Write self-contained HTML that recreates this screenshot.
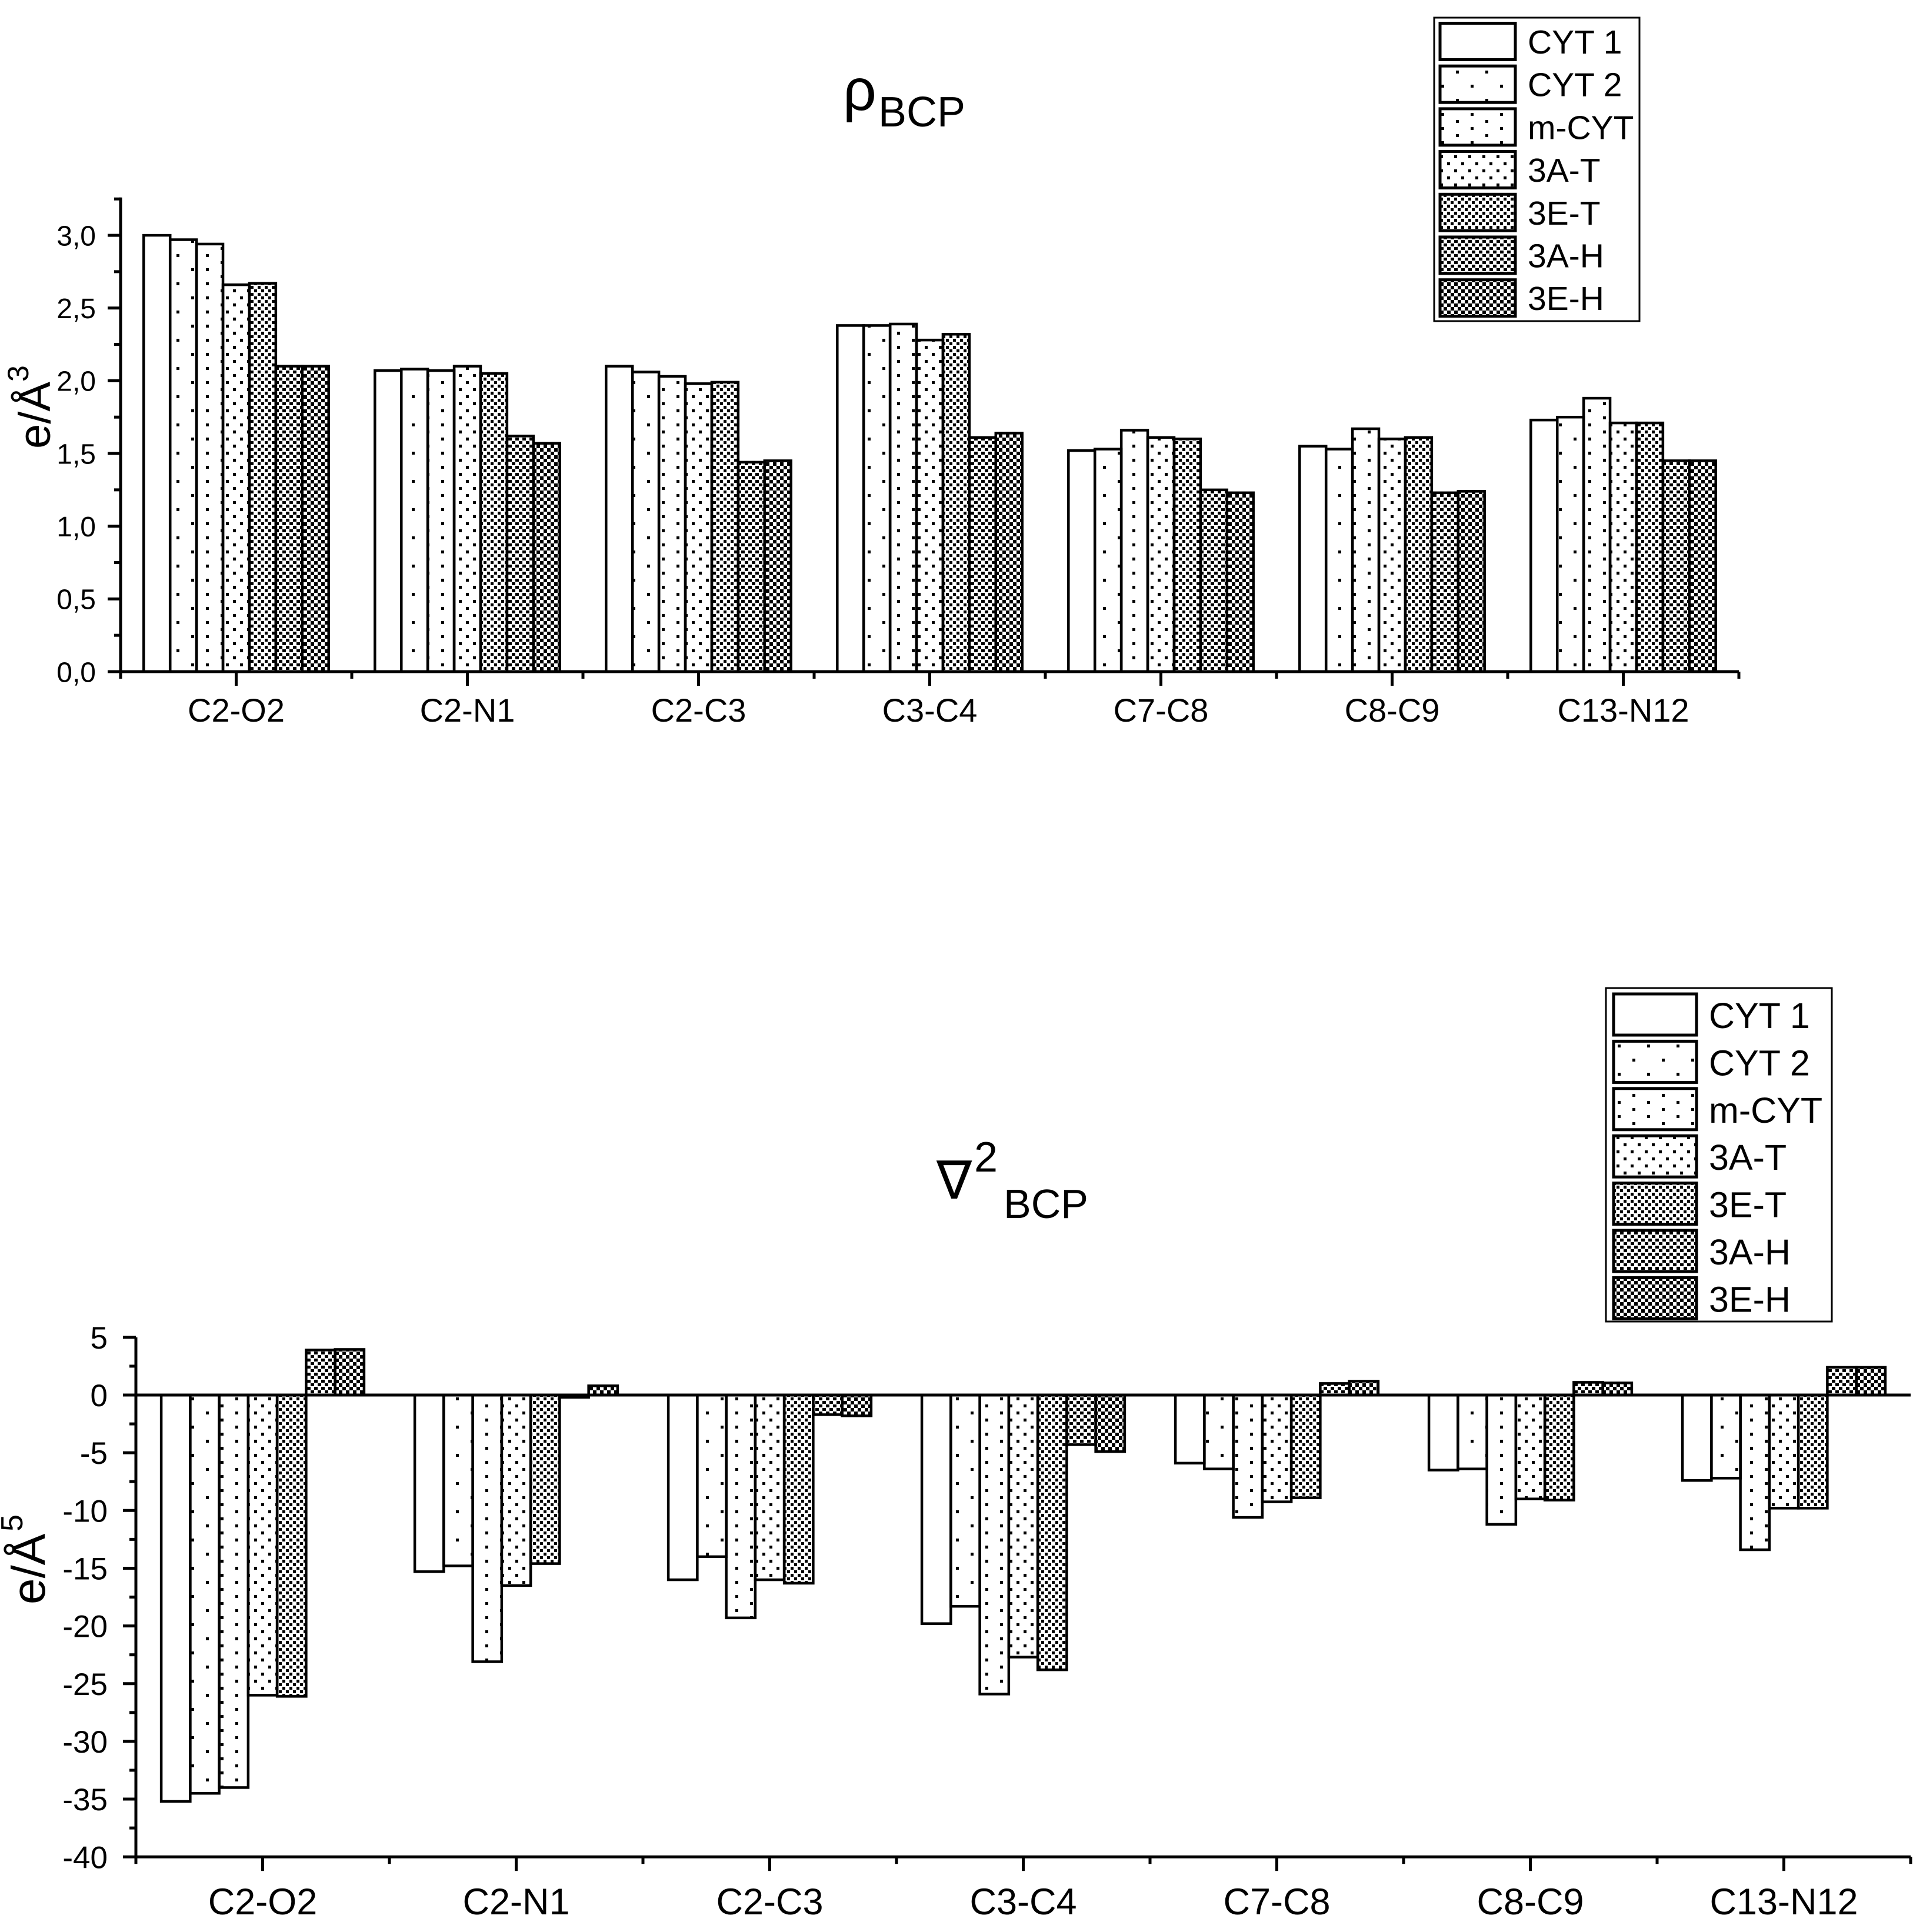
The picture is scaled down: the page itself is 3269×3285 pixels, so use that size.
<!DOCTYPE html>
<html><head><meta charset="utf-8"><style>
html,body{margin:0;padding:0;background:#fff}
svg{display:block}
text{font-family:"Liberation Sans",Arial,sans-serif;fill:#000}
</style></head><body>
<svg id="chart" width="3269" height="3285" viewBox="0 0 3269 3285" xmlns="http://www.w3.org/2000/svg">
<defs>
<pattern id="p1" width="50" height="48" patternUnits="userSpaceOnUse"><rect x="0" y="0" width="5" height="5" fill="#000"/><rect x="25" y="24" width="5" height="5" fill="#000"/></pattern>
<pattern id="p2" width="50" height="24" patternUnits="userSpaceOnUse"><rect x="0" y="0" width="5" height="5" fill="#000"/><rect x="25" y="12" width="5" height="5" fill="#000"/></pattern>
<pattern id="p3" width="24" height="24" patternUnits="userSpaceOnUse"><rect x="0" y="0" width="5" height="5" fill="#000"/><rect x="12" y="12" width="5" height="5" fill="#000"/></pattern>
<pattern id="p4" width="12" height="12" patternUnits="userSpaceOnUse"><rect x="0" y="0" width="5" height="5" fill="#000"/><rect x="6" y="6" width="5" height="5" fill="#000"/></pattern>
<pattern id="p5" width="12" height="12" patternUnits="userSpaceOnUse"><rect x="0" y="0" width="6" height="5" fill="#000"/><rect x="6" y="6" width="6" height="5" fill="#000"/></pattern>
<pattern id="p6" width="12" height="12" patternUnits="userSpaceOnUse"><rect x="0" y="0" width="6" height="6" fill="#000"/><rect x="6" y="6" width="6" height="6" fill="#000"/></pattern>
</defs>
<g id="topChart"></g>
<g id="botChart"></g>
</svg>
<script>
const categories = ["C2-O2","C2-N1","C2-C3","C3-C4","C7-C8","C8-C9","C13-N12"];
const seriesNames = ["CYT 1","CYT 2","m-CYT","3A-T","3E-T","3A-H","3E-H"];
const rhoCYT1 = [3.00,2.07,2.10,2.38,1.52,1.55,1.73];
const rhoCYT2 = [2.97,2.08,2.06,2.38,1.53,1.53,1.75];
const rhoMCYT = [2.94,2.07,2.03,2.39,1.66,1.67,1.88];
const rho3AT = [2.66,2.10,1.98,2.28,1.61,1.60,1.71];
const rho3ET = [2.67,2.05,1.99,2.32,1.60,1.61,1.71];
const rho3AH = [2.10,1.62,1.44,1.61,1.25,1.23,1.45];
const rho3EH = [2.10,1.57,1.45,1.64,1.23,1.24,1.45];
const lapCYT1 = [-35.2,-15.3,-16.0,-19.8,-5.9,-6.5,-7.4];
const lapCYT2 = [-34.5,-14.8,-14.0,-18.3,-6.4,-6.4,-7.2];
const lapMCYT = [-34.0,-23.1,-19.3,-25.9,-10.6,-11.2,-13.4];
const lap3AT = [-26.0,-16.5,-16.0,-22.7,-9.25,-9.0,-9.8];
const lap3ET = [-26.1,-14.6,-16.3,-23.8,-8.9,-9.1,-9.8];
const lap3AH = [3.9,-0.2,-1.7,-4.3,1.0,1.1,2.4];
const lap3EH = [3.95,0.8,-1.8,-4.9,1.2,1.05,2.4];
const rhoTicks = ["0,0","0,5","1,0","1,5","2,0","2,5","3,0"];
const rhoTickValues = [0,0.5,1,1.5,2,2.5,3];
const lapTickValues = [5,0,-5,-10,-15,-20,-25,-30,-35,-40];
const lapTicks = ["5","0","-5","-10","-15","-20","-25","-30","-35","-40"];

const fills = ["#fff","url(#p1)","url(#p2)","url(#p3)","url(#p4)","url(#p5)","url(#p6)"];
const NS = "http://www.w3.org/2000/svg";
function mk(parent, tag, attrs, txt){
  const e = document.createElementNS(NS, tag);
  for (const k in attrs) e.setAttribute(k, attrs[k]);
  if (txt !== undefined) e.textContent = txt;
  parent.appendChild(e);
  return e;
}

function drawChart(g, cfg){
  const yS = v => cfg.y0 - v * cfg.ppu;
  const groupW = cfg.groupW;
  const barW = groupW * 0.8 / 7;
  const xS = (ci, si) => cfg.axisX + ci * groupW + groupW * 0.1 + si * barW;
  cfg.series.forEach((arr, si) => {
    arr.forEach((v, ci) => {
      const x = xS(ci, si);
      const yTop = Math.min(yS(v), yS(0));
      const h = Math.abs(yS(v) - yS(0));
      const r = mk(g, "rect", {x: x, y: yTop, width: barW, height: Math.max(h, 1), fill: fills[si], stroke: "#000", "stroke-width": 4.5});
      
      
    });
  });
  const ya = mk(g, "line", {x1: cfg.axisX, y1: yS(cfg.yMax), x2: cfg.axisX, y2: yS(cfg.yMin) + 3, stroke: "#000", "stroke-width": 5});
  
  
  cfg.tickValues.forEach((v, i) => {
    mk(g, "line", {x1: cfg.axisX - 22, y1: yS(v), x2: cfg.axisX, y2: yS(v), stroke: "#000", "stroke-width": 5});
    const t = mk(g, "text", {x: cfg.labelRight, y: yS(v) + cfg.tickFont * 0.36, "font-size": cfg.tickFont, "text-anchor": "end"}, cfg.tickLabels[i]);
    
    
    const mv = v + cfg.minorStep;
    if (mv <= cfg.yMax + 1e-9) mk(g, "line", {x1: cfg.axisX - 11, y1: yS(mv), x2: cfg.axisX, y2: yS(mv), stroke: "#000", "stroke-width": 5});
  });
  const xEnd = cfg.axisX + groupW * 7;
  const xa = mk(g, "line", {x1: cfg.axisX, y1: yS(0), x2: xEnd, y2: yS(0), stroke: "#000", "stroke-width": 5});
  
  
  const by = yS(cfg.yMin);
  if (cfg.yMin < 0) mk(g, "line", {x1: cfg.axisX, y1: by, x2: xEnd, y2: by, stroke: "#000", "stroke-width": 5});
  categories.forEach((c, ci) => {
    const cx = cfg.axisX + ci * groupW + groupW / 2;
    mk(g, "line", {x1: cx, y1: by, x2: cx, y2: by + 24, stroke: "#000", "stroke-width": 5});
    mk(g, "line", {x1: cfg.axisX + ci * groupW, y1: by, x2: cfg.axisX + ci * groupW, y2: by + 12, stroke: "#000", "stroke-width": 5});
    const t = mk(g, "text", {x: cx, y: cfg.catY, "font-size": cfg.catFont, "text-anchor": "middle"}, c);
    
    
  });
  mk(g, "line", {x1: xEnd, y1: by, x2: xEnd, y2: by + 12, stroke: "#000", "stroke-width": 5});
}

const topG = document.getElementById("topChart");
drawChart(topG, {y0: 1142, ppu: 247.3, axisX: 205, groupW: 393, yMax: 3.26, yMin: 0,
  series: [rhoCYT1, rhoCYT2, rhoMCYT, rho3AT, rho3ET, rho3AH, rho3EH],
  tickValues: rhoTickValues, tickLabels: rhoTicks, minorStep: 0.25, labelRight: 163, tickFont: 48,
  catY: 1227, catFont: 56});
const botG = document.getElementById("botChart");
drawChart(botG, {y0: 2372, ppu: 19.63, axisX: 231, groupW: 431, yMax: 5, yMin: -40,
  series: [lapCYT1, lapCYT2, lapMCYT, lap3AT, lap3ET, lap3AH, lap3EH],
  tickValues: lapTickValues, tickLabels: lapTicks, minorStep: 2.5, labelRight: 183, tickFont: 53,
  catY: 3255, catFont: 63});

let t;
t = mk(topG, "text", {x: 1433, y: 187, "font-size": 100}, "ρ");


mk(topG, "text", {x: 1493, y: 215, "font-size": 72}, "BCP");
t = mk(topG, "text", {transform: "translate(85,763) rotate(-90)", "font-size": 76}, "e/Å");


mk(topG, "text", {transform: "translate(48,649) rotate(-90)", "font-size": 50}, "3");

t = mk(botG, "text", {x: 1592, y: 2038, "font-size": 90}, "∇");


mk(botG, "text", {x: 1656, y: 1992, "font-size": 72}, "2");
mk(botG, "text", {x: 1706, y: 2071, "font-size": 70}, "BCP");
t = mk(botG, "text", {transform: "translate(76,2728) rotate(-90)", "font-size": 80}, "e/Å");


mk(botG, "text", {transform: "translate(38,2604) rotate(-90)", "font-size": 52}, "5");

function legend(g, bx, by, bw, bh, sx, sw, sy, sh, pitch, tx, tbase, font){
  const lg = mk(g, "g", {});
  
  
  mk(lg, "rect", {x: bx, y: by, width: bw, height: bh, fill: "#fff", stroke: "#000", "stroke-width": 3});
  seriesNames.forEach((n, i) => {
    const e = mk(lg, "g", {});
    
    
    mk(e, "rect", {x: sx, y: sy + i * pitch, width: sw, height: sh, fill: fills[i], stroke: "#000", "stroke-width": 5});
    mk(e, "text", {x: tx, y: tbase + i * pitch, "font-size": font}, n);
  });
}
legend(topG, 2438, 30, 349, 516, 2448, 128, 39.5, 62, 72.7, 2597, 91, 57);
legend(botG, 2730, 1680, 384, 567, 2743, 141, 1690, 70, 80.4, 2905, 1748, 61);
</script>
</body></html>
